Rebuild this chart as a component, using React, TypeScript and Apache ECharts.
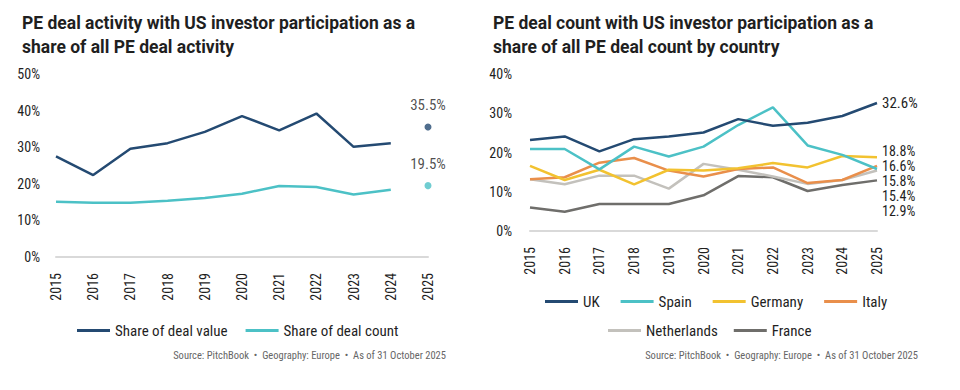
import React, { useEffect, useRef } from "react";
import * as echarts from "echarts";

const years = ["2015", "2016", "2017", "2018", "2019", "2020", "2021", "2022", "2023", "2024", "2025"];

// Left chart (2015-2024 lines, 2025 shown as dot)
const dealValueShare = [27.5, 22.4, 29.6, 31.1, 34.2, 38.5, 34.6, 39.2, 30.1, 31.1];
const dealCountShare = [15.1, 14.8, 14.8, 15.4, 16.1, 17.3, 19.4, 19.1, 17.1, 18.4];
const dealValue2025 = 35.5;
const dealCount2025 = 19.5;

// Right chart by country
const uk = [23.2, 24.1, 20.3, 23.4, 24.1, 25.1, 28.5, 26.8, 27.6, 29.3, 32.6];
const spain = [20.9, 20.9, 15.7, 21.5, 19.0, 21.5, 27.0, 31.5, 21.8, 19.4, 15.8];
const germany = [16.6, 13.0, 15.6, 11.9, 15.6, 15.4, 16.0, 17.3, 16.2, 19.1, 18.8];
const italy = [13.2, 13.7, 17.4, 18.6, 15.4, 13.9, 15.8, 16.2, 12.2, 13.0, 16.6];
const netherlands = [13.2, 11.9, 14.1, 14.1, 10.8, 17.1, 15.6, 13.9, 12.0, 13.0, 15.4];
const france = [6.0, 4.9, 6.9, 6.9, 6.9, 9.1, 14.0, 13.7, 10.2, 11.7, 12.9];

const leftTitle = "PE deal activity with US investor participation as a\nshare of all PE deal activity";
const rightTitle = "PE deal count with US investor participation as a\nshare of all PE deal count by country";
const sourceText = "Source: PitchBook  •  Geography: Europe  •  As of 31 October 2025";

const COND = "'Roboto Condensed','Liberation Sans Narrow','Arial Narrow','DejaVu Sans Condensed',Roboto,sans-serif";
const TXT = "#1f1f1f";

export default function App() {
  const ref = useRef<HTMLDivElement>(null);
  useEffect(() => {
    if (!ref.current) return;
    const chart = echarts.init(ref.current, undefined, { renderer: "svg" });

    const axisLabelStyle = { color: TXT, fontSize: 14, fontFamily: COND };

    const endLbl = (dy: number, size: number) => ({
      show: true,
      formatter: (p: any) => p.value + "%",
      offset: [0, dy],
      distance: 5,
      color: TXT,
      fontSize: size,
      lineHeight: 13,
      fontFamily: COND,
    });

    const countryLine = (name: string, data: number[], color: string, dy: number, size = 14) => ({
      name,
      type: "line",
      xAxisIndex: 1,
      yAxisIndex: 1,
      data,
      symbol: "none",
      lineStyle: { color, width: 2.5 },
      itemStyle: { color },
      endLabel: endLbl(dy, size),
    });

    const pad = (arr: number[]) => [...arr, "-"];
    const lastOnly = (v: number) => [...years.slice(0, 10).map(() => "-"), v];

    const titleStyle = { fontSize: 17.5, fontWeight: "bold", fontFamily: "Roboto", color: TXT, lineHeight: 24 };

    chart.setOption({
      animation: false,
      title: [
        { text: leftTitle, left: 17, top: 6, textStyle: titleStyle },
        { text: rightTitle, left: 488, top: 6, textStyle: titleStyle },
      ],
      grid: [
        { left: 56, width: 372, top: 74, height: 183, containLabel: false },
        { left: 530, width: 347, top: 74, height: 157, containLabel: false },
      ],
      xAxis: [0, 1].map((i) => ({
        type: "category",
        gridIndex: i,
        data: years,
        boundaryGap: false,
        axisLine: { show: true, lineStyle: { color: "#d9d9d9", width: 2 } },
        axisTick: { show: false },
        axisLabel: { ...axisLabelStyle, rotate: 90, margin: 16, interval: 0 },
      })),
      yAxis: [
        {
          type: "value",
          gridIndex: 0,
          min: 0,
          max: 50,
          interval: 10,
          splitLine: { show: false },
          axisLine: { show: false },
          axisTick: { show: false },
          axisLabel: { ...axisLabelStyle, margin: 16, formatter: "{value}%" },
        },
        {
          type: "value",
          gridIndex: 1,
          min: 0,
          max: 40,
          interval: 10,
          splitLine: { show: false },
          axisLine: { show: false },
          axisTick: { show: false },
          axisLabel: { ...axisLabelStyle, margin: 18, formatter: "{value}%" },
        },
      ],
      legend: [
        {
          data: ["Share of deal value", "Share of deal count"],
          left: 72,
          top: 318,
          icon: "rect",
          itemWidth: 33,
          itemHeight: 3,
          itemGap: 18,
          textStyle: { color: TXT, fontSize: 15, fontFamily: COND },
        },
        {
          data: ["UK", "Spain", "Germany", "Italy"],
          left: 540,
          top: 289,
          icon: "rect",
          itemWidth: 33,
          itemHeight: 3,
          itemGap: 21,
          textStyle: { color: TXT, fontSize: 15, fontFamily: COND },
        },
        {
          data: ["Netherlands", "France"],
          left: 603,
          top: 318,
          icon: "rect",
          itemWidth: 33,
          itemHeight: 3,
          itemGap: 16,
          textStyle: { color: TXT, fontSize: 15, fontFamily: COND },
        },
      ],
      graphic: [
        {
          type: "text",
          right: 960 - 446,
          top: 350,
          style: { text: sourceText, fill: "#666", fontSize: 10.5, fontFamily: COND, textAlign: "right" },
        },
        {
          type: "text",
          right: 960 - 918,
          top: 350,
          style: { text: sourceText, fill: "#666", fontSize: 10.5, fontFamily: COND, textAlign: "right" },
        },
      ],
      series: [
        {
          name: "Share of deal value",
          type: "line",
          xAxisIndex: 0,
          yAxisIndex: 0,
          data: pad(dealValueShare),
          symbol: "none",
          lineStyle: { color: "#244a72", width: 2.5 },
          itemStyle: { color: "#244a72" },
        },
        {
          name: "Share of deal count",
          type: "line",
          xAxisIndex: 0,
          yAxisIndex: 0,
          data: pad(dealCountShare),
          symbol: "none",
          lineStyle: { color: "#4cc1c6", width: 2.5 },
          itemStyle: { color: "#4cc1c6" },
        },
        {
          name: "value2025",
          type: "scatter",
          xAxisIndex: 0,
          yAxisIndex: 0,
          data: lastOnly(dealValue2025),
          symbolSize: 7,
          itemStyle: { color: "#244a72" },
          label: {
            show: true,
            position: "top",
            distance: 11,
            formatter: (p: any) => p.value + "%",
            color: TXT,
            fontSize: 15,
            fontFamily: COND,
          },
        },
        {
          name: "count2025",
          type: "scatter",
          xAxisIndex: 0,
          yAxisIndex: 0,
          data: lastOnly(dealCount2025),
          symbolSize: 7,
          itemStyle: { color: "#4cc1c6" },
          label: {
            show: true,
            position: "top",
            distance: 11,
            formatter: (p: any) => p.value + "%",
            color: TXT,
            fontSize: 15,
            fontFamily: COND,
          },
        },
        countryLine("France", france, "#6f6e6b", 31),
        countryLine("Netherlands", netherlands, "#c3c1bc", 25),
        countryLine("Italy", italy, "#e98f4b", 0),
        countryLine("Germany", germany, "#f2c230", -6),
        countryLine("Spain", spain, "#4cc1c6", 12),
        countryLine("UK", uk, "#244a72", 0, 15),
      ],
    });
    return () => chart.dispose();
  }, []);
  return (
    <div
      ref={ref}
      style={{ position: "absolute", left: 0, top: 0, width: 960, height: 390, background: "#fff" }}
    />
  );
}
